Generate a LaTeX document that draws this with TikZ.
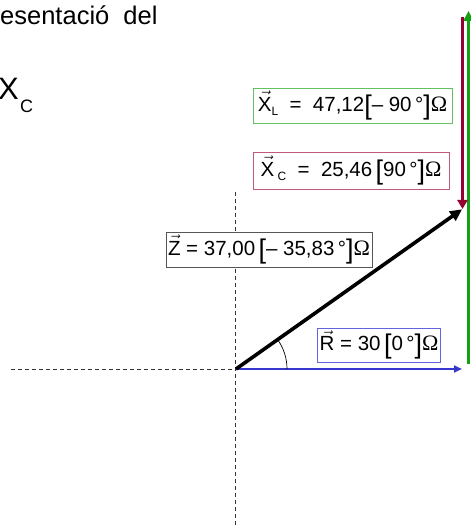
\documentclass[tikz,border=0pt]{standalone}
\usepackage{fontspec}
\setmainfont{Liberation Sans}
\newfontfamily\omfont{Liberation Serif}
\usetikzlibrary{arrows.meta}
\definecolor{gline}{RGB}{20,160,20}
\definecolor{gbox}{RGB}{100,190,100}
\definecolor{mline}{RGB}{150,0,50}
\definecolor{mbox}{RGB}{190,90,125}
\definecolor{bline}{RGB}{55,55,205}
\definecolor{bbox}{RGB}{100,100,225}
\definecolor{zbox}{RGB}{85,85,85}
\newcommand{\vsym}[1]{$\vec{\mbox{#1}}$}
\newcommand{\subs}[1]{\raisebox{-0.45ex}{\fontsize{12}{12}\selectfont #1}}
\newcommand{\lbr}{\raisebox{-0.3ex}{\fontsize{27}{27}\selectfont[}}
\newcommand{\rbr}{\raisebox{-0.3ex}{\fontsize{27}{27}\selectfont]}}
\newcommand{\ohm}{{\omfont\fontsize{22}{22}\selectfont Ω}}
\tikzset{
  lbl/.style={draw, line width=0.9pt, fill=white, inner sep=2pt, font=\fontsize{20.5}{22}\selectfont, anchor=center},
  dashline/.style={dash pattern=on 4pt off 3pt, line width=0.8pt, black!80},
}
\begin{document}
\begin{tikzpicture}[x=1pt,y=1pt]
\useasboundingbox (0,0) rectangle (471,525);
% coordinates
\coordinate (O) at (236,156);
\coordinate (Rt) at (462,156);
\coordinate (Zt) at (462.5,316);
\coordinate (Ct) at (462.5,508);
\coordinate (Gb) at (468.5,161);
\coordinate (Gt) at (468.5,514);
\coordinate (Hl) at (11,156);
\coordinate (Vt) at (235.5,333);
\coordinate (Vb) at (235.5,0);
% title fragments
\node[anchor=base west, inner sep=0, font=\fontsize{25.5}{28}\selectfont] (title) at (0,500) {esentació\ \ del};
\node[anchor=base west, inner sep=0, font=\fontsize{31}{33}\selectfont] (xc) at (-2,425) {X};
\node[anchor=base west, inner sep=0, font=\fontsize{18}{20}\selectfont] (xcs) at (20,412) {C};
% axes
\draw[dashline] (Hl) -- (O);
\draw[dashline] (Vt) -- (Vb);
% vectors
\draw[gline, line width=3pt, -{Triangle[length=10pt,width=10pt]}] (Gb) -- (Gt);
\draw[mline, line width=3.6pt, -{Triangle[length=9pt,width=10pt]}] (Ct) -- (Zt);
\draw[bline, line width=2.6pt, -{Triangle[length=8pt,width=7pt]}] (O) -- (Rt);
\draw[black, line width=3.6pt, shorten >=0.5pt, -{Triangle[length=12pt,width=11pt]}] (O) -- (Zt);
\draw[line width=0.7pt] ([shift={(0:51pt)}]O) arc[start angle=0, end angle=35.3, radius=51pt];
% labels
\node[lbl, draw=gbox, minimum width=199pt, minimum height=35pt] (lxl) at (352.5,419.5)
  {\vsym{X}\subs{L}\ \ = \ 47,12\lbr{}– 90\,°\rbr{}\ohm};
\node[lbl, draw=mbox, minimum width=196pt, minimum height=37pt] (lxc) at (351,354.5)
  {\vsym{X}\,\subs{C}\ \ = \ 25,46\,\lbr{}90\,°\rbr{}\ohm};
\node[lbl, draw=zbox, minimum width=206pt, minimum height=35pt] (lz) at (269,275.5)
  {\vsym{Z} = 37,00\,\lbr{}– 35,83\,°\rbr{}\ohm};
\node[lbl, draw=bbox, minimum width=122pt, minimum height=34pt] (lr) at (379,180)
  {\vsym{R} = 30\,\lbr{}0\,°\rbr{}\ohm};
\end{tikzpicture}
\end{document}
